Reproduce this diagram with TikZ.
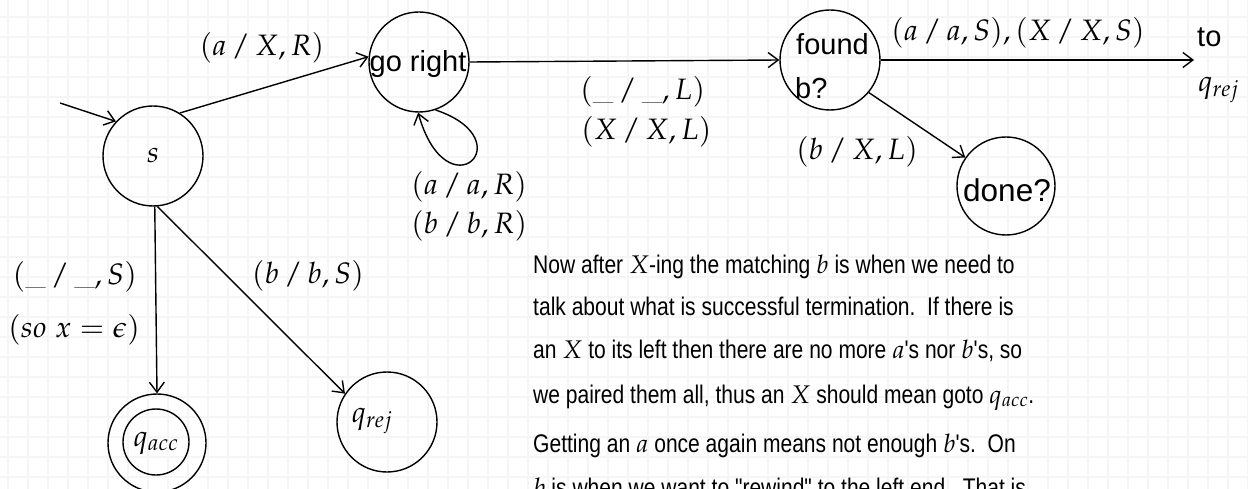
\documentclass[tikz,border=0pt]{standalone}
\usepackage{mathpazo}
\usepackage[no-math]{fontspec}
\newfontfamily\sfbody[FakeStretch=0.825]{Liberation Sans}
\newfontfamily\sfnode{Liberation Sans}
\usetikzlibrary{arrows.meta}
\begin{document}
\begin{tikzpicture}[x=1pt,y=-1pt,
  state/.style={circle,draw,line width=1.4pt,minimum size=100pt,inner sep=0pt},
  edge/.style={draw,line width=1.4pt,-{Straight Barb[length=10pt,width=15pt,line width=1.4pt]}},
  lbl/.style={font=\fontsize{29.5}{34}\selectfont,inner sep=0pt},
  ntext/.style={font=\sfnode\fontsize{29}{32}\selectfont,inner sep=0pt},
  body/.style={font=\sfbody\fontsize{25.5}{30}\selectfont,anchor=base west,inner sep=0pt},
  gridline/.style={draw=black!4,line width=1.6pt}
]
\useasboundingbox (0,0) rectangle (1248,489);
\clip (0,0) rectangle (1248,489);
\fill[white] (0,0) rectangle (1248,489);
\foreach \i in {0,...,62} \draw[gridline] (8+20*\i,0) -- (8+20*\i,489);
\foreach \j in {0,...,24} \draw[gridline] (0,17+20*\j) -- (1248,17+20*\j);

% states
\node[state] (s) at (153,156) {\fontsize{29.5}{34}\selectfont$s$};
\node[state] (gr) at (419,62) {};
\node[ntext] (grt) at (418,64) {go right};
\node[state] (fb) at (830,60) {};
\node[ntext,anchor=west] (fbt1) at (796,44) {found};
\node[ntext,anchor=west] (fbt2) at (795,88) {b?};
\node[state,minimum size=98pt] (dn) at (1006,186) {};
\node[ntext,font=\sfnode\fontsize{31.5}{34}\selectfont] (dnt) at (1007,190) {done?};
\node[state] (qr) at (387,422) {};
\node[lbl] (qrt) at (372,421) {$q_{rej}$};
\node[state,minimum size=98pt] (qa) at (157,443) {};
\node[circle,draw,line width=1.4pt,minimum size=66pt,inner sep=0pt] (qai) at (156,442) {};
\node[lbl] (qat) at (156,443) {$q_{acc}$};

% free ends
\coordinate (init) at (60,103);
\coordinate (toq) at (1194,60);
\node[ntext,anchor=west] (tot) at (1197,37) {to};
\node[lbl,anchor=west] (toqr) at (1198,90) {$q_{rej}$};

% edges
\draw[edge] (init) -- (s.137);
\draw[edge] (s.58) -- (gr.174);
\draw[edge] (gr.east) -- (fb.west);
\draw[edge] (gr.-71) .. controls (525,140) and (447,215) .. (gr.-91);
\draw[edge] (fb.east) -- (toq);
\draw[edge] (fb.-40) -- (dn.145);
\draw[edge] (s.-88) -- (qa.north);
\draw[edge] (s.-85) -- (qr.146);

% labels
\node[lbl] (l1) at (262,48) {$(a\,/\,X, R)$};
\node[lbl,anchor=west] (l2a) at (411,187) {$(a\,/\,a, R)$};
\node[lbl,anchor=west] (l2b) at (411,226) {$(b\,/\,b, R)$};
\node[lbl,anchor=west] (l3a) at (580,92) {$(\_\,/\,\_, L)$};
\node[lbl,anchor=west] (l3b) at (581,132) {$(X\,/\,X, L)$};
\node[lbl] (l4) at (1018,33) {$(a\,/\,a, S), (X\,/\,X, S)$};
\node[lbl] (l5) at (857,152) {$(b\,/\,X, L)$};
\node[lbl,anchor=east] (l6a) at (137,277) {$(\_\,/\,\_, S)$};
\node[lbl,anchor=east] (l6b) at (140,330) {$(so\;x = \epsilon)$};
\node[lbl] (l7) at (308,276) {$(b\,/\,b, S)$};

% body text
\node[body] (t1) at (533,273) {Now after $X$-ing the matching $b$ is when we need to};
\node[body] (t2) at (533,315) {talk about what is successful termination.\ \ If there is};
\node[body] (t3) at (533,358) {an $X$ to its left then there are no more $a$'s nor $b$'s, so};
\node[body] (t4) at (533,403) {we paired them all, thus an $X$ should mean goto $q_{acc}$.};
\node[body] (t5) at (533,452) {Getting an $a$ once again means not enough $b$'s.\ \ On};
\node[body] (t6) at (533,496) {$b$ is when we want to "rewind" to the left end.\ \ That is};
\end{tikzpicture}
\end{document}
